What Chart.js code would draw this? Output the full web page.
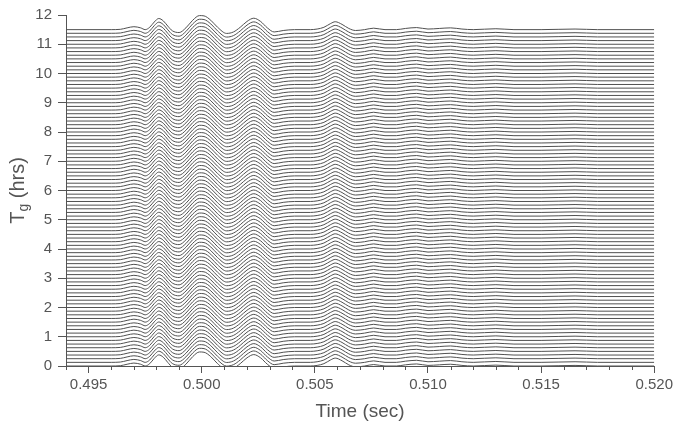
<!DOCTYPE html>
<html>
<head>
<meta charset="utf-8">
<script src="https://cdn.jsdelivr.net/npm/chart.js@4.4.1/dist/chart.umd.min.js"></script>
<style>
  html, body { margin: 0; padding: 0; background: #ffffff; }
  #wrap { width: 676px; height: 423px; }
</style>
</head>
<body>
<div id="wrap"><canvas id="c" width="676" height="423"></canvas></div>
<script>
// T_g (hrs) of each trace baseline
const tgValues = [
  0.000, 0.125, 0.250, 0.375, 0.500, 0.625, 0.750, 0.875,
  1.000, 1.125, 1.250, 1.375, 1.500, 1.625, 1.750, 1.875,
  2.000, 2.125, 2.250, 2.375, 2.500, 2.625, 2.750, 2.875,
  3.000, 3.125, 3.250, 3.375, 3.500, 3.625, 3.750, 3.875,
  4.000, 4.125, 4.250, 4.375, 4.500, 4.625, 4.750, 4.875,
  5.000, 5.125, 5.250, 5.375, 5.500, 5.625, 5.750, 5.875,
  6.000, 6.125, 6.250, 6.375, 6.500, 6.625, 6.750, 6.875,
  7.000, 7.125, 7.250, 7.375, 7.500, 7.625, 7.750, 7.875,
  8.000, 8.125, 8.250, 8.375, 8.500, 8.625, 8.750, 8.875,
  9.000, 9.125, 9.250, 9.375, 9.500, 9.625, 9.750, 9.875,
  10.000, 10.125, 10.250, 10.375, 10.500, 10.625, 10.750, 10.875,
  11.000, 11.125, 11.250, 11.375, 11.500
];

// Waveform: sample times (sec) and deflection (hrs units)
const waveTime = [
  0.4940, 0.4960, 0.4964, 0.4967, 0.4970, 0.4973, 0.4975, 0.4977,
  0.4979, 0.4981, 0.4983, 0.4985, 0.4987, 0.4990, 0.4993, 0.4996,
  0.4999, 0.5001, 0.5004, 0.5007, 0.5011, 0.5014, 0.5017, 0.5020,
  0.5023, 0.5026, 0.5029, 0.5032, 0.5036, 0.5041, 0.5048, 0.5051,
  0.5054, 0.5057, 0.5059, 0.5062, 0.5065, 0.5068, 0.5072, 0.5076,
  0.5081, 0.5086, 0.5090, 0.5095, 0.5100, 0.5105, 0.5110, 0.5115,
  0.5120, 0.5130, 0.5138, 0.5150, 0.5165, 0.5175, 0.5200
];
const waveAmp = [
  0.00, 0.00, 0.01, 0.06, 0.10, 0.06, 0.00, 0.08,
  0.26, 0.38, 0.30, 0.12, -0.04, -0.10, 0.06, 0.32,
  0.48, 0.47, 0.32, 0.08, -0.13, -0.08, 0.08, 0.28,
  0.39, 0.28, 0.06, -0.08, -0.03, 0.00, 0.00, 0.02,
  0.08, 0.21, 0.27, 0.18, 0.04, -0.03, 0.00, 0.05,
  0.00, 0.00, 0.04, 0.07, 0.02, 0.04, 0.06, 0.02,
  0.00, 0.03, 0.00, 0.00, 0.02, 0.00, 0.00
];

// Axis ticks
const xMajorTicks = [0.495, 0.500, 0.505, 0.510, 0.515, 0.520];
const xMinorTicks = [
  0.494, 0.496, 0.497, 0.498, 0.499, 0.501, 0.502, 0.503, 0.504,
  0.506, 0.507, 0.508, 0.509, 0.511, 0.512, 0.513, 0.514,
  0.516, 0.517, 0.518, 0.519
];
const yTicks = [0, 1, 2, 3, 4, 5, 6, 7, 8, 9, 10, 11, 12];

const AXIS = '#555555';
const LINE = '#505050';
const FONT = '"Liberation Sans", Arial, Helvetica, sans-serif';

const datasets = tgValues.map(tg => ({
  data: waveTime.map((t, j) => ({ x: t, y: tg + waveAmp[j] })),
  borderColor: LINE,
  borderWidth: 1,
  pointRadius: 0,
  fill: false,
  cubicInterpolationMode: 'monotone'
}));

const minorTickPlugin = {
  id: 'minorTicks',
  afterDraw(chart) {
    const xs = chart.scales.x;
    const ctx = chart.ctx;
    const y0 = chart.chartArea.bottom;
    ctx.save();
    ctx.strokeStyle = AXIS;
    ctx.lineWidth = 1;
    ctx.beginPath();
    xMinorTicks.forEach(v => {
      const px = Math.round(xs.getPixelForValue(v)) + 0.5;
      ctx.moveTo(px, y0);
      ctx.lineTo(px, y0 + 4);
    });
    ctx.stroke();
    ctx.restore();
  }
};

const yTitlePlugin = {
  id: 'yTitle',
  afterDraw(chart) {
    const ctx = chart.ctx;
    const ca = chart.chartArea;
    const cy = (ca.top + ca.bottom) / 2;
    const big = '20px ' + FONT;
    const small = '14px ' + FONT;
    ctx.save();
    ctx.fillStyle = AXIS;
    ctx.textBaseline = 'alphabetic';
    ctx.font = big; const wT = ctx.measureText('T').width;
    ctx.font = small; const wg = ctx.measureText('g').width;
    ctx.font = big; const wR = ctx.measureText(' (hrs)').width;
    const total = wT + wg + wR;
    ctx.translate(24, cy);
    ctx.rotate(-Math.PI / 2);
    let x = -total / 2;
    ctx.font = big; ctx.fillText('T', x, 0); x += wT;
    ctx.font = small; ctx.fillText('g', x, 4); x += wg;
    ctx.font = big; ctx.fillText(' (hrs)', x, 0);
    ctx.restore();
  }
};

new Chart(document.getElementById('c'), {
  type: 'line',
  data: { datasets },
  options: {
    responsive: false,
    animation: false,
    events: [],
    layout: { padding: { top: 13, right: 20, left: 0, bottom: 0 } },
    plugins: { legend: { display: false }, tooltip: { enabled: false } },
    elements: { point: { radius: 0 } },
    scales: {
      x: {
        type: 'linear',
        min: 0.494,
        max: 0.520,
        afterBuildTicks: s => { s.ticks = xMajorTicks.map(v => ({ value: v })); },
        afterFit: s => { s.height = 57; },
        ticks: {
          callback: v => Number(v).toFixed(3),
          color: AXIS,
          font: { family: FONT, size: 15 },
          padding: 3,
          maxRotation: 0,
          autoSkip: false
        },
        grid: { drawOnChartArea: false, drawTicks: true, tickLength: 7, color: AXIS, tickColor: AXIS },
        border: { display: true, color: AXIS, width: 1 },
        title: {
          display: true,
          text: 'Time (sec)',
          color: AXIS,
          font: { family: FONT, size: 19 },
          padding: { top: 0, bottom: 0 }
        }
      },
      y: {
        type: 'linear',
        min: 0,
        max: 12,
        afterBuildTicks: s => { s.ticks = yTicks.map(v => ({ value: v })); },
        afterFit: s => { s.width = 66; },
        ticks: {
          color: AXIS,
          font: { family: FONT, size: 15 },
          padding: 6,
          autoSkip: false
        },
        grid: { drawOnChartArea: false, drawTicks: true, tickLength: 8, color: AXIS, tickColor: AXIS },
        border: { display: true, color: AXIS, width: 1 }
      }
    }
  },
  plugins: [minorTickPlugin, yTitlePlugin]
});
</script>
</body>
</html>
